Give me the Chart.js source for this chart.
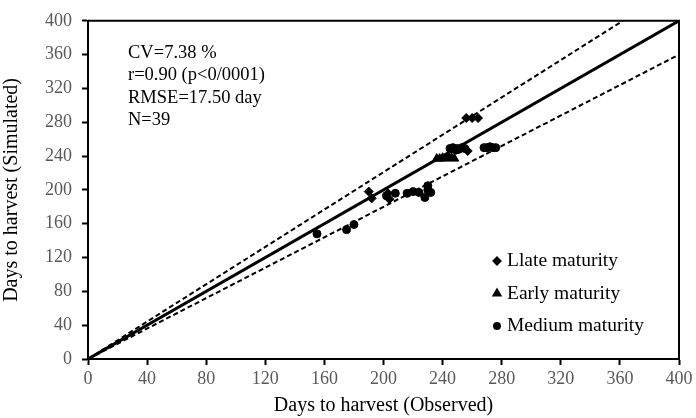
<!DOCTYPE html>
<html>
<head>
<meta charset="utf-8">
<script src="https://cdn.jsdelivr.net/npm/chart.js@4/dist/chart.umd.min.js"></script>
<style>
  html, body { margin: 0; padding: 0; background: #fff; }
  #wrap { width: 696px; height: 418px; }
</style>
</head>
<body>
<div id="wrap"><canvas id="chart" width="696" height="418"></canvas></div>
<script>
// observed / simulated days to harvest
const lateObs = [190, 192, 203, 204, 250, 257, 256, 260, 264];
const lateSim = [198, 190, 196, 189, 249, 246, 285, 285, 285];
const earlyObs = [236, 238, 240, 242, 244, 246, 248];
const earlySim = [237, 237, 238, 237, 239, 238, 237];
const mediumObs = [155, 175, 180, 202, 208, 216, 220, 224, 228, 230, 230, 232, 245, 247, 249, 251, 253, 255, 268, 270, 272, 274, 276];
const mediumSim = [148, 153, 159, 193, 196, 196, 198, 197, 191, 200, 205, 197, 249, 250, 247, 248, 250, 249, 250, 250, 251, 250, 250];

// 1:1 line and the +/-10 % bands
const lineX = [0, 400];
const lineY = [0, 400];
const upperX = [0, 362];
const upperY = [0, 400];
const lowerX = [0, 400];
const lowerY = [0, 360];

const axisTicks = [0, 40, 80, 120, 160, 200, 240, 280, 320, 360, 400];
const statLines = ['CV=7.38 %', 'r=0.90 (p<0/0001)', 'RMSE=17.50 day', 'N=39'];

const SERIF = '"Liberation Serif", "Times New Roman", serif';

function pts(xs, ys) {
    return xs.map((x, i) => ({ x: x, y: ys[i] }));
}

const statsBox = {
    id: 'statsBox',
    afterDraw(chart) {
        const ctx = chart.ctx;
        const area = chart.chartArea;
        ctx.save();
        // frame on top and right
        ctx.strokeStyle = '#000';
        ctx.lineWidth = 2;
        ctx.beginPath();
        ctx.moveTo(area.left, area.top);
        ctx.lineTo(area.right, area.top);
        ctx.lineTo(area.right, area.bottom);
        ctx.stroke();

        ctx.fillStyle = '#000';
        ctx.font = '18.5px ' + SERIF;
        ctx.textBaseline = 'middle';
        ctx.textAlign = 'left';
        statLines.forEach((t, i) => {
            ctx.fillText(t, 128, 53 + i * 22.5);
        });

        // legend
        ctx.font = '19.5px ' + SERIF;
        const items = chart.data.datasets.filter(d => d.inLegend);
        items.forEach((d, i) => {
            const y = 261 + i * 32.5;
            Chart.helpers.drawPoint(ctx, {
                pointStyle: d.pointStyle,
                radius: d.pointRadius - 1,
                rotation: 0,
                borderWidth: 1
            }, 497, y);
            ctx.fillStyle = '#000';
            ctx.fill();
            ctx.fillText(d.label, 507, y);
        });
        ctx.restore();
    }
};

const ctx = document.getElementById('chart').getContext('2d');
new Chart(ctx, {
    type: 'scatter',
    data: {
        datasets: [
            {
                label: 'Llate maturity', inLegend: true,
                data: pts(lateObs, lateSim),
                pointStyle: 'rectRot', pointRadius: 4.5,
                backgroundColor: '#000', borderColor: '#000'
            },
            {
                label: 'Early maturity', inLegend: true,
                data: pts(earlyObs, earlySim),
                pointStyle: 'triangle', pointRadius: 5,
                backgroundColor: '#000', borderColor: '#000'
            },
            {
                label: 'Medium maturity', inLegend: true,
                data: pts(mediumObs, mediumSim),
                pointStyle: 'circle', pointRadius: 4,
                backgroundColor: '#000', borderColor: '#000'
            },
            {
                label: '1:1', data: pts(lineX, lineY), showLine: true,
                pointRadius: 0, borderColor: '#000', borderWidth: 3
            },
            {
                label: '+10%', data: pts(upperX, upperY), showLine: true,
                pointRadius: 0, borderColor: '#000', borderWidth: 2, borderDash: [5, 3]
            },
            {
                label: '-10%', data: pts(lowerX, lowerY), showLine: true,
                pointRadius: 0, borderColor: '#000', borderWidth: 2, borderDash: [5, 3]
            }
        ]
    },
    options: {
        responsive: false,
        animation: false,
        layout: { padding: { top: 19, right: 17, left: 0, bottom: 0 } },
        plugins: {
            legend: { display: false },
            tooltip: { enabled: false }
        },
        scales: {
            x: {
                type: 'linear', min: 0, max: 400,
                afterBuildTicks: s => { s.ticks = axisTicks.map(v => ({ value: v })); },
                afterFit: s => { s.height = 59; },
                grid: { drawOnChartArea: false, drawTicks: true, tickLength: 6, tickColor: '#000', tickWidth: 2 },
                border: { color: '#000', width: 2 },
                ticks: { color: '#595959', font: { family: SERIF, size: 18 }, padding: 3, maxRotation: 0 },
                title: {
                    display: true, text: 'Days to harvest (Observed)', color: '#000',
                    font: { family: SERIF, size: 20 }, padding: { top: 3, bottom: 0 }
                }
            },
            y: {
                type: 'linear', min: 0, max: 400,
                afterBuildTicks: s => { s.ticks = axisTicks.map(v => ({ value: v })); },
                afterFit: s => { s.width = 88; },
                grid: { drawOnChartArea: false, drawTicks: true, tickLength: 6, tickColor: '#000', tickWidth: 2 },
                border: { color: '#000', width: 2 },
                ticks: { color: '#595959', font: { family: SERIF, size: 18 }, padding: 10 },
                title: {
                    display: true, text: 'Days to harvest (Simulated)', color: '#000',
                    font: { family: SERIF, size: 20 }, padding: { top: 0, bottom: 2 }
                }
            }
        }
    },
    plugins: [statsBox]
});
</script>
</body>
</html>
